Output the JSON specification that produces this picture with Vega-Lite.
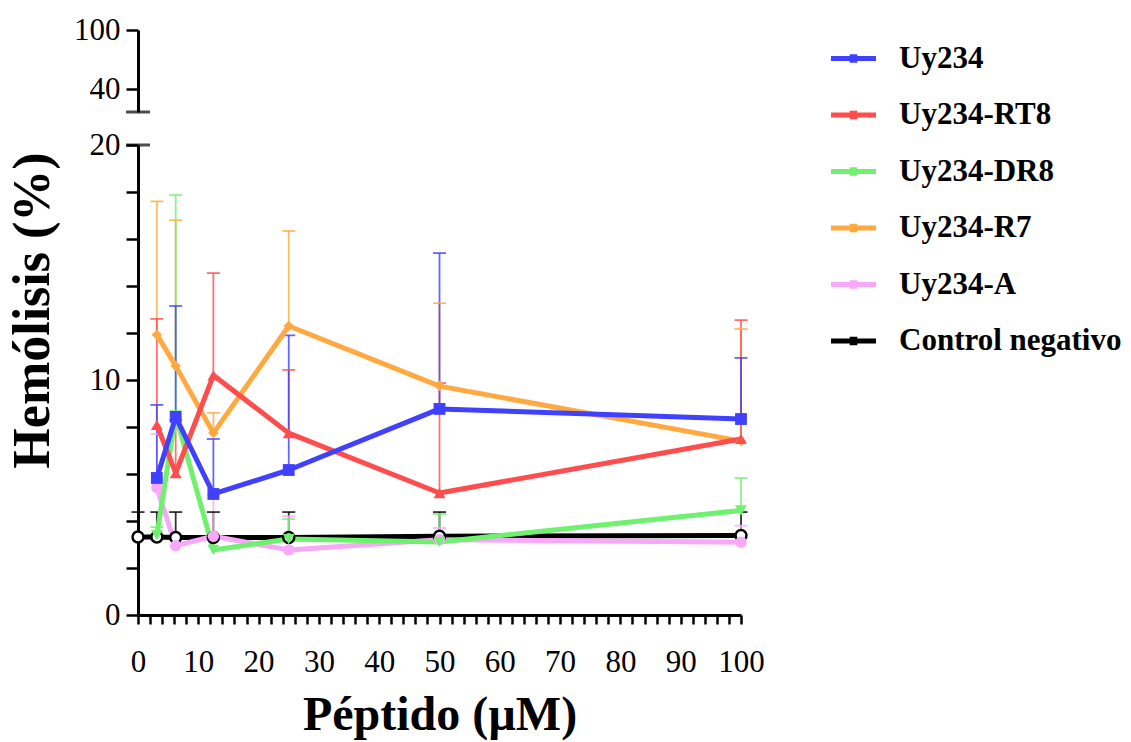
{
  "$schema": "https://vega.github.io/schema/vega-lite/v6.json",
  "padding": {"left": 6, "top": 14, "right": 5, "bottom": 5},
  "config": {
    "view": {"stroke": null},
    "font": "Liberation Serif",
    "axis": {
      "grid": false,
      "domainColor": "black",
      "domainWidth": 3,
      "tickColor": "black",
      "tickWidth": 2.5,
      "labelFont": "Liberation Serif",
      "labelFontSize": 31,
      "labelColor": "black",
      "labelOverlap": false,
      "labelFlush": false,
      "titleFont": "Liberation Serif",
      "titleFontSize": 48,
      "titleFontWeight": "bold",
      "titleColor": "black"
    }
  },
  "datasets": {
    "series": [
      {"series": "Control negativo", "conc": 0, "mean": 3.32, "top": 4.38},
      {"series": "Control negativo", "conc": 3.125, "mean": 3.32, "top": 4.38},
      {"series": "Control negativo", "conc": 6.25, "mean": 3.3, "top": 4.38},
      {"series": "Control negativo", "conc": 12.5, "mean": 3.3, "top": 4.38},
      {"series": "Control negativo", "conc": 25, "mean": 3.3, "top": 4.38},
      {"series": "Control negativo", "conc": 50, "mean": 3.35, "top": 4.38},
      {"series": "Control negativo", "conc": 100, "mean": 3.38, "top": 4.38},
      {"series": "Uy234-A", "conc": 3.125, "mean": 5.42, "top": 7.7},
      {"series": "Uy234-A", "conc": 6.25, "mean": 2.95, "top": 3.3},
      {"series": "Uy234-A", "conc": 12.5, "mean": 3.35, "top": 5.1},
      {"series": "Uy234-A", "conc": 25, "mean": 2.77, "top": 4.2},
      {"series": "Uy234-A", "conc": 50, "mean": 3.2, "top": 3.7},
      {"series": "Uy234-A", "conc": 100, "mean": 3.1, "top": 3.8},
      {"series": "Uy234-R7", "conc": 3.125, "mean": 11.93, "top": 17.6},
      {"series": "Uy234-R7", "conc": 6.25, "mean": 10.6, "top": 16.8},
      {"series": "Uy234-R7", "conc": 12.5, "mean": 7.74, "top": 8.6},
      {"series": "Uy234-R7", "conc": 25, "mean": 12.3, "top": 16.34},
      {"series": "Uy234-R7", "conc": 50, "mean": 9.74, "top": 13.27},
      {"series": "Uy234-R7", "conc": 100, "mean": 7.4, "top": 12.17},
      {"series": "Uy234-DR8", "conc": 3.125, "mean": 3.4, "top": 3.74},
      {"series": "Uy234-DR8", "conc": 6.25, "mean": 8.5, "top": 17.87},
      {"series": "Uy234-DR8", "conc": 12.5, "mean": 2.77, "top": 3.2},
      {"series": "Uy234-DR8", "conc": 25, "mean": 3.23, "top": 4.08},
      {"series": "Uy234-DR8", "conc": 50, "mean": 3.11, "top": 4.3},
      {"series": "Uy234-DR8", "conc": 100, "mean": 4.45, "top": 5.83},
      {"series": "Uy234-RT8", "conc": 3.125, "mean": 8.09, "top": 12.6},
      {"series": "Uy234-RT8", "conc": 6.25, "mean": 6.04, "top": 8.3},
      {"series": "Uy234-RT8", "conc": 12.5, "mean": 10.2, "top": 14.55},
      {"series": "Uy234-RT8", "conc": 25, "mean": 7.74, "top": 10.43},
      {"series": "Uy234-RT8", "conc": 50, "mean": 5.19, "top": 9.87},
      {"series": "Uy234-RT8", "conc": 100, "mean": 7.49, "top": 12.55},
      {"series": "Uy234", "conc": 3.125, "mean": 5.83, "top": 8.94},
      {"series": "Uy234", "conc": 6.25, "mean": 8.43, "top": 13.15},
      {"series": "Uy234", "conc": 12.5, "mean": 5.15, "top": 7.49},
      {"series": "Uy234", "conc": 25, "mean": 6.17, "top": 11.9},
      {"series": "Uy234", "conc": 50, "mean": 8.77, "top": 15.4},
      {"series": "Uy234", "conc": 100, "mean": 8.34, "top": 10.94}
    ]
  },
  "vconcat": [
    {
      "width": 603,
      "height": 82,
      "data": {"values": [{"conc": 0, "level": 17}]},
      "mark": {"type": "tick", "orient": "horizontal", "size": 24, "thickness": 3, "color": "black"},
      "encoding": {
        "x": {"field": "conc", "type": "quantitative", "scale": {"domain": [0, 100], "nice": false, "zero": false}, "axis": null},
        "y": {"field": "level", "type": "quantitative", "scale": {"domain": [17, 100], "nice": false, "zero": false},
          "axis": {"title": null, "values": [40, 100], "tickSize": 12, "labelPadding": 6}}
      }
    },
    {
      "width": 603,
      "height": 470,
      "encoding": {
        "x": {"field": "conc", "type": "quantitative", "scale": {"domain": [0, 100], "nice": false},
          "axis": {
            "title": "Péptido (µM)",
            "values": [0, 2, 4, 6, 8, 10, 12, 14, 16, 18, 20, 22, 24, 26, 28, 30, 32, 34, 36, 38, 40, 42, 44, 46, 48, 50, 52, 54, 56, 58, 60, 62, 64, 66, 68, 70, 72, 74, 76, 78, 80, 82, 84, 86, 88, 90, 92, 94, 96, 98, 100],
            "labelExpr": "datum.value % 10 === 0 ? datum.label : ''",
            "labelOverlap": false,
            "tickSize": 9,
            "labelPadding": 23,
            "titlePadding": 14,
            "encode": {"ticks": {"update": {"y2": {"signal": "datum.value % 10 === 0 ? 17 : 9"}}}}
          }
        },
        "y": {"field": "mean", "type": "quantitative", "scale": {"domain": [0, 20], "nice": false},
          "axis": {
            "title": "Hemólisis (%)",
            "titleFontSize": 52,
            "values": [0, 2, 4, 6, 8, 10, 12, 14, 16, 18, 20],
            "labelExpr": "datum.value % 10 === 0 ? datum.label : ''",
            "labelOverlap": false,
            "tickSize": 12,
            "labelPadding": 6,
            "titleY": 165,
            "titleX": -79
          }
        }
      },
      "layer": [
        {
          "data": {"name": "series"},
          "mark": {"type": "rule", "strokeWidth": 1.8, "opacity": 0.8},
          "encoding": {
            "y2": {"field": "top"},
            "color": {"field": "series", "type": "nominal"}
          }
        },
        {
          "data": {"name": "series"},
          "mark": {"type": "tick", "orient": "horizontal", "size": 13, "thickness": 1.8, "opacity": 0.8},
          "encoding": {
            "y": {"field": "top", "type": "quantitative"},
            "color": {"field": "series", "type": "nominal"}
          }
        },
        {
          "data": {"name": "series"},
          "mark": {"type": "line", "strokeWidth": 5, "strokeJoin": "round"},
          "encoding": {
            "color": {
              "field": "series",
              "type": "nominal",
              "scale": {
                "domain": ["Uy234", "Uy234-RT8", "Uy234-DR8", "Uy234-R7", "Uy234-A", "Control negativo"],
                "range": ["#4040FF", "#FF4D4D", "#6FF06F", "#FFA940", "#F8A8F8", "#000000"]
              },
              "legend": {
                "title": null,
                "orient": "none",
                "legendX": 693,
                "legendY": 6,
                "labelFont": "Liberation Serif",
                "labelFontSize": 31,
                "labelFontWeight": "bold",
                "labelColor": "black",
                "labelLimit": 400,
                "symbolType": "M-1,-0.11L1,-0.11L1,0.11L-1,0.11Z M-0.17,-0.19L0.17,-0.19L0.17,0.19L-0.17,0.19Z",
                "symbolSize": 2025,
                "symbolStrokeWidth": 0,
                "rowPadding": 18.5,
                "labelOffset": 23,
                "encode": {"symbols": {"update": {"fill": {"scale": "color", "field": "value"}, "stroke": {"value": "transparent"}, "opacity": {"value": 1}}}}
              }
            }
          }
        },
        {
          "data": {"name": "series"},
          "transform": [{"filter": "datum.series === 'Control negativo'"}],
          "mark": {"type": "point", "shape": "circle", "size": 120, "filled": false, "fill": "white", "stroke": "black", "strokeWidth": 2.5, "opacity": 1}
        },
        {
          "data": {"name": "series"},
          "transform": [{"filter": "datum.series === 'Uy234-A'"}],
          "mark": {"type": "point", "shape": "circle", "size": 130, "filled": true, "color": "#F8A8F8", "opacity": 1}
        },
        {
          "data": {"name": "series"},
          "transform": [{"filter": "datum.series === 'Uy234-R7'"}],
          "mark": {"type": "point", "shape": "diamond", "size": 110, "filled": true, "color": "#FFA940", "opacity": 1}
        },
        {
          "data": {"name": "series"},
          "transform": [{"filter": "datum.series === 'Uy234-DR8'"}],
          "mark": {"type": "point", "shape": "triangle-down", "size": 140, "filled": true, "color": "#6FF06F", "opacity": 1}
        },
        {
          "data": {"name": "series"},
          "transform": [{"filter": "datum.series === 'Uy234-RT8'"}],
          "mark": {"type": "point", "shape": "triangle-up", "size": 140, "filled": true, "color": "#FF4D4D", "opacity": 1}
        },
        {
          "data": {"name": "series"},
          "transform": [{"filter": "datum.series === 'Uy234'"}],
          "mark": {"type": "point", "shape": "square", "size": 140, "filled": true, "color": "#4040FF", "opacity": 1}
        },
        {
          "data": {"values": [{"conc": 0, "level": 20}]},
          "mark": {"type": "tick", "orient": "horizontal", "size": 24, "thickness": 3, "color": "black"},
          "encoding": {
            "x": {"field": "conc", "type": "quantitative"},
            "y": {"field": "level", "type": "quantitative"}
          }
        }
      ]
    }
  ],
  "spacing": 33,
  "bounds": "flush"
}
